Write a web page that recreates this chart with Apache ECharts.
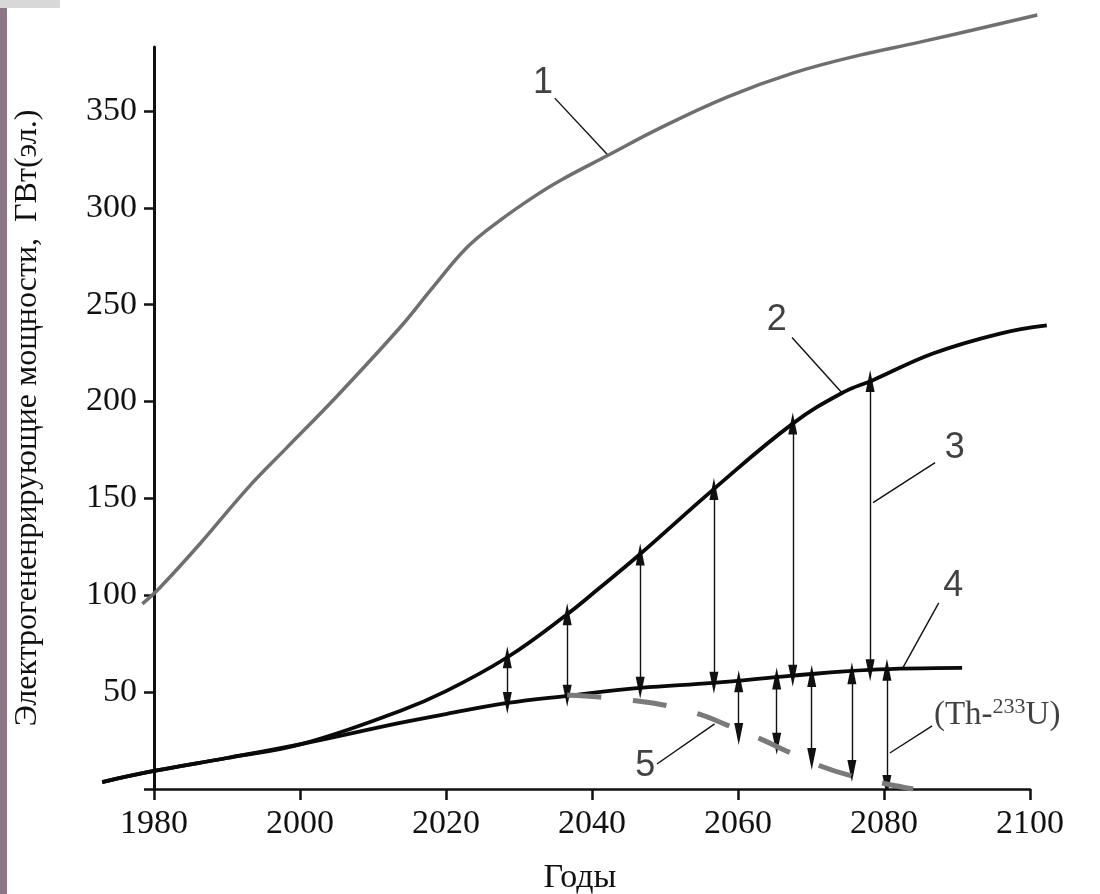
<!DOCTYPE html>
<html><head><meta charset="utf-8">
<script src="https://cdn.jsdelivr.net/npm/echarts@6/dist/echarts.min.js"></script>
<style>html,body{margin:0;padding:0;background:#fff}#c{width:1100px;height:894px}</style>
</head><body><div id="c"></div>
<script>
// ---- data ----
const yTickValues = [50, 100, 150, 200, 250, 300, 350];
const xTickValues = [1980, 2000, 2020, 2040, 2060, 2080, 2100];

// curve 1 (gray)
const years1 = [1978.4, 1980.8, 1986.3, 1992.9, 1998.2, 2004.5, 2013.7, 2018.2, 2022.9, 2027.4, 2031.9, 2035.6, 2042.2, 2049.3, 2058.5, 2067.5, 2076.7, 2084.9, 2101.0];
const values1 = [95.6, 103.9, 126.6, 155.6, 176.2, 200.5, 238.2, 258.9, 279.6, 293.5, 305.4, 314.0, 327.1, 341.1, 357.1, 369.5, 378.8, 385.5, 399.5];
// curve 2
const years2 = [1972.9, 1980, 1990, 2000.3, 2013.7, 2020, 2028.4, 2036.6, 2041.1, 2046.6, 2056.8, 2067.5, 2074.4, 2078.4, 2086.7, 2095.9, 2102.3];
const values2 = [3.6, 9.3, 16, 23.3, 40.3, 50.5, 68.0, 90.2, 104.0, 121.3, 155.2, 188.6, 204.7, 210.9, 224.8, 235.1, 239.3];
// curve 4
const years4 = [1972.9, 1980, 1990, 2000.3, 2013.7, 2020, 2028.4, 2036.6, 2046.6, 2056.6, 2067.5, 2078, 2090.7];
const values4 = [3.6, 9.3, 16, 23.3, 34.1, 38.7, 44.4, 48.1, 52.2, 54.8, 58.5, 61.5, 62.5];
// curve 5 (dashed)
const years5 = [2036.6, 2041, 2045.6, 2050.3, 2054.8, 2058.5, 2063.3, 2066.7, 2071.2, 2075.3, 2080.4, 2084];
const values5 = [48.5, 47.5, 45.7, 43, 38.5, 33, 25.5, 19.5, 12, 7, 2.6, 0];

// arrows 3 (between curve 4 and curve 2)
const arrowUpYears = [2028.4, 2036.6, 2046.6, 2056.7, 2067.5, 2078.1];
const arrowUpLow = [44.4, 48.1, 52.2, 54.8, 58.5, 61.3];
const arrowUpHigh = [68.0, 90.2, 121.0, 154.8, 188.6, 210.6];
// arrows between curve 4 and curve 5
const arrowDownYears = [2060.1, 2065.3, 2070.1, 2075.6, 2080.4];
const arrowDownTop = [55.6, 57.0, 58.3, 59.8, 61.5];
const arrowDownBottom = [28.4, 23.3, 15.5, 9.3, 1.6];

// annotation labels and leader lines (data coordinates)
const labelTexts = ['1', '2', '3', '4', '5', 'Th'];
const labelYears = [2033.3, 2065.3, 2089.7, 2089.5, 2047.3, 2095.5];
const labelValues = [364.3, 241.9, 176.2, 104.9, 11.9, 38.8];
const leaderFrom = [[2034.9, 356.6], [2067.4, 233.1], [2087.0, 168.5], [2087.5, 96.1], [2048.9, 12.9], [2086.6, 32.6]];
const leaderTo = [[2042.2, 327.1], [2074.2, 204.7], [2078.5, 147.8], [2082.5, 62.0], [2056.8, 33.6], [2080.8, 18.6]];

const zip = (xs, ys) => xs.map((x, i) => [x, ys[i]]);
const serif = '"Liberation Serif", "DejaVu Serif", serif';
const sans = '"Liberation Sans", Arial, sans-serif';

// layout: visible axes grid, plus an aligned wider (hidden) grid so curves may run past the axis ends
const W = 1100, H = 894;
const gA = {left: 154, right: 70, top: 47, bottom: 105};
const xA = [1980, 2100], yA = [0, 383];
const xB = [1970, 2105], yB = [0, 400];
const pxX = (W - gA.left - gA.right) / (xA[1] - xA[0]);
const pxY = (H - gA.top - gA.bottom) / (yA[1] - yA[0]);
const gB = {
  left: gA.left - (xA[0] - xB[0]) * pxX,
  right: gA.right - (xB[1] - xA[1]) * pxX,
  bottom: gA.bottom,
  top: H - gA.bottom - (yB[1] - yB[0]) * pxY
};

const hiddenAxis = {show: false, axisLine: {show: false}, axisTick: {show: false}, axisLabel: {show: false}, splitLine: {show: false}};

const chart = echarts.init(document.getElementById('c'), null, {renderer: 'canvas'});
chart.setOption({
  backgroundColor: '#ffffff',
  animation: false,
  grid: [
    Object.assign({containLabel: false, outerBoundsMode: 'none'}, gA),
    Object.assign({containLabel: false, outerBoundsMode: 'none'}, gB)
  ],
  xAxis: [{
    type: 'value', gridIndex: 0, min: xA[0], max: xA[1], interval: 20,
    name: 'Годы', nameLocation: 'middle', nameGap: 72,
    nameTextStyle: {fontFamily: serif, fontSize: 34, color: '#111', padding: [0, 24, 0, 0]},
    axisLine: {show: true, onZero: false, lineStyle: {color: '#111', width: 2.5}},
    axisTick: {show: true, length: 11, lineStyle: {color: '#111', width: 2.5}},
    axisLabel: {fontFamily: serif, fontSize: 34, color: '#111', margin: 18, formatter: v => String(v)},
    splitLine: {show: false}
  }, Object.assign({type: 'value', gridIndex: 1, min: xB[0], max: xB[1]}, hiddenAxis)],
  yAxis: [{
    type: 'value', gridIndex: 0, min: yA[0], max: yA[1],
    name: 'Электрогененрирующие мощности,  ГВт(эл.)', nameLocation: 'middle', nameGap: 110,
    nameTextStyle: {fontFamily: serif, fontSize: 32, color: '#111'},
    axisLine: {show: true, lineStyle: {color: '#111', width: 3}},
    axisTick: {show: true, length: 10, customValues: [0].concat(yTickValues), lineStyle: {color: '#111', width: 2.5}},
    axisLabel: {fontFamily: serif, fontSize: 34, color: '#111', margin: 17, customValues: yTickValues},
    splitLine: {show: false}
  }, Object.assign({type: 'value', gridIndex: 1, min: yB[0], max: yB[1]}, hiddenAxis)],
  graphic: [
    {type: 'rect', left: 0, top: 0, shape: {width: 7, height: 894}, style: {fill: '#8d7588'}, silent: true},
    {type: 'rect', left: 0, top: 0, shape: {width: 60, height: 8}, style: {fill: '#d8d8d8'}, silent: true}
  ],
  series: [
    {type: 'line', xAxisIndex: 1, yAxisIndex: 1, data: zip(years1, values1), smooth: 0.4, symbol: 'none',
     lineStyle: {color: '#6f6f6f', width: 3.5}},
    {type: 'line', xAxisIndex: 1, yAxisIndex: 1, data: zip(years2, values2), smooth: 0.4, symbol: 'none',
     lineStyle: {color: '#0a0a0a', width: 3.8}},
    {type: 'line', xAxisIndex: 1, yAxisIndex: 1, data: zip(years4, values4), smooth: 0.4, symbol: 'none',
     lineStyle: {color: '#0a0a0a', width: 3.8}},
    {type: 'line', xAxisIndex: 1, yAxisIndex: 1, data: zip(years5, values5), smooth: 0.4, symbol: 'none',
     lineStyle: {color: '#7a7a7a', width: 5, type: [34, 32], cap: 'butt'}},
    {type: 'lines', coordinateSystem: 'cartesian2d', xAxisIndex: 1, yAxisIndex: 1,
     symbol: ['triangle', 'triangle'], symbolSize: [[9, 22], [9, 22]],
     lineStyle: {color: '#111', width: 1.4, opacity: 1},
     data: arrowUpYears.map((y, i) => ({coords: [[y, arrowUpLow[i]], [y, arrowUpHigh[i]]]})).concat(
           arrowDownYears.map((y, i) => ({coords: [[y, arrowDownTop[i]], [y, arrowDownBottom[i]]]})))},
    {type: 'lines', coordinateSystem: 'cartesian2d', xAxisIndex: 1, yAxisIndex: 1,
     symbol: ['none', 'none'],
     lineStyle: {color: '#111', width: 1.4, opacity: 1},
     data: leaderFrom.map((p, i) => ({coords: [p, leaderTo[i]]}))},
    {type: 'scatter', xAxisIndex: 1, yAxisIndex: 1, symbolSize: 1, itemStyle: {color: 'transparent'},
     data: labelTexts.map((t, i) => ({name: t, value: [labelYears[i], labelValues[i]]})),
     label: {show: true, position: 'inside', color: '#111',
       formatter: p => p.name === 'Th' ? '{a|(Th-}{s|233}{a|U)}' : '{n|' + p.name + '}',
       rich: {
         n: {fontFamily: sans, fontSize: 36, color: '#111'},
         a: {fontFamily: serif, fontSize: 33, color: '#111', verticalAlign: 'bottom', lineHeight: 36},
         s: {fontFamily: serif, fontSize: 22, color: '#111', verticalAlign: 'top', lineHeight: 36, padding: [0, 0, 14, 0]}
       }}}
  ]
});
</script></body></html>
